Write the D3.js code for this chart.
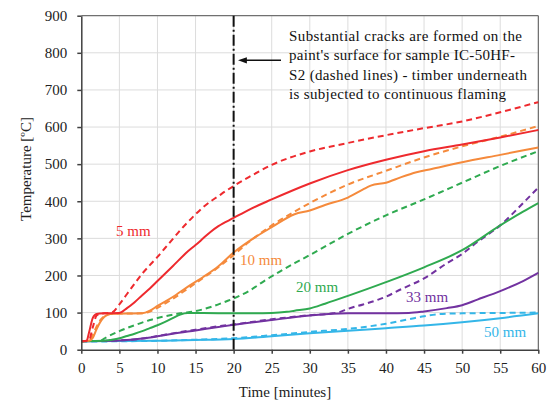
<!DOCTYPE html>
<html><head><meta charset="utf-8">
<script src="https://cdn.jsdelivr.net/npm/d3@7"></script>
<style>body{margin:0;background:#fff}svg{display:block}</style>
</head><body><svg id="c" width="549" height="409" font-family="Liberation Serif"></svg>
<script>
// ---- data ----
const xTicks = [0,5,10,15,20,25,30,35,40,45,50,55,60];
const yTicks = [0,100,200,300,400,500,600,700,800,900];
const seriesNames = ["5 mm","10 mm","20 mm","33 mm","50 mm"];
const seriesColors = ["#EE2A2E","#F58A3C","#2FAA50","#7232A0","#34B6E8"];
// [time(min), temperature(°C)]
const red_solid = [[0,23],[0.7,24],[1,45],[1.5,85],[2,96],[3,98],[5,99],[6,112],[7,128],[8,147],[9,165],[10,185],[12,225],[14,265],[15,282],[16,300],[17,318],[18,333],[20,355],[22,377],[25,405],[30,448],[35,484],[40,512],[45,535],[50,553],[55,572],[60,592]];
const red_dashed = [[0,23],[1,25],[1.5,60],[2,92],[2.5,97],[3,98],[4,100],[5,122],[6,150],[7,178],[8,205],[9,228],[10,250],[11,274],[12,298],[13,322],[14,344],[15,365],[16,384],[17,400],[18,414],[19,428],[20,441],[22,465],[25,498],[30,534],[35,557],[40,578],[45,597],[50,615],[55,640],[60,667]];
const orange_solid = [[0,23],[1,24],[1.5,32],[2,55],[2.5,75],[3,88],[3.5,94],[4,97],[8,98],[9,105],[10,118],[12,142],[14,170],[16,196],[18,225],[20,262],[22,292],[25,330],[28,365],[30,375],[32,390],[35,410],[37,432],[38,442],[40,450],[42,465],[44,478],[46,487],[50,505],[55,525],[60,545]];
const orange_dashed = [[0,23],[1,24],[1.5,40],[2,62],[2.5,80],[3,90],[3.5,96],[4,97],[8,98],[9,103],[10,113],[12,137],[14,165],[16,193],[18,222],[20,255],[22,290],[25,335],[28,372],[30,395],[35,445],[40,482],[45,518],[50,548],[55,574],[60,603]];
const green_solid = [[0,23],[3,24],[4,27],[5,31],[6,37],[7,43],[8,50],[9,58],[10,66],[11,75],[12,85],[13,95],[14,99],[16,99],[20,98],[25,99],[27,102],[28,105],[30,111],[32,124],[35,145],[40,182],[45,222],[50,268],[55,335],[58,372],[60,395]];
const green_dashed = [[0,23],[2.5,24],[3,30],[5,50],[7,66],[9,80],[11,90],[13,98],[15,104],[17,115],[19,130],[20,138],[22,158],[24,185],[26,210],[28,233],[30,255],[35,312],[40,362],[45,405],[50,450],[55,495],[60,535]];
const purple_solid = [[0,23],[5,25],[8,30],[10,36],[12,43],[15,52],[18,61],[20,67],[25,80],[30,92],[33,97],[35,98],[40,98],[43,99],[45,103],[48,112],[50,120],[52,135],[55,158],[58,185],[60,207]];
const purple_dashed = [[0,23],[5,25],[8,30],[10,37],[12,44],[15,54],[18,63],[20,68],[25,82],[30,93],[33,98],[34,102],[35,110],[37,122],[39,135],[40,143],[42,163],[45,192],[48,233],[50,258],[52,290],[55,335],[58,395],[60,437]];
const blue_solid = [[0,23],[10,24],[15,26],[20,29],[25,36],[30,44],[35,51],[40,58],[45,65],[50,74],[55,85],[60,98]];
const blue_dashed = [[0,22],[10,24],[15,27],[20,31],[25,39],[30,48],[35,56],[40,70],[43,82],[45,90],[47,96],[50,98],[55,99],[60,100]];
const crackTime = 20;
const noteLines = ["Substantial cracks are formed on the","paint's surface for sample IC-50HF-","S2 (dashed lines) - timber underneath","is subjected to continuous flaming"];
const xTitle = "Time [minutes]";
const yTitle = "Temperature [ºC]";

// ---- chart ----
const FONT = "Liberation Serif";
const svg = d3.select("#c");
const m = {l:81.3, r:10.7, t:15.7, b:59.3};
const W = 549, H = 409;
const x = d3.scaleLinear().domain([0,60]).range([m.l, W-m.r]);
const y = d3.scaleLinear().domain([0,900]).range([H-m.b, m.t]);

// grid
svg.append("g").selectAll("line").data(xTicks.slice(1)).join("line")
  .attr("x1",d=>x(d)).attr("x2",d=>x(d)).attr("y1",y(0)).attr("y2",y(900))
  .attr("stroke","#dcdcdc").attr("stroke-width",1);
svg.append("g").selectAll("line").data(yTicks.slice(1)).join("line")
  .attr("y1",d=>y(d)).attr("y2",d=>y(d)).attr("x1",x(0)).attr("x2",x(60))
  .attr("stroke","#dcdcdc").attr("stroke-width",1);
// frame top/right
svg.append("path").attr("d",`M${x(0)},${y(900)}H${x(60)}V${y(0)}`)
  .attr("fill","none").attr("stroke","#555").attr("stroke-width",1);

// series
const line = d3.line().x(d=>x(d[0])).y(d=>y(d[1])).curve(d3.curveMonotoneX);
const series = [
  [blue_solid,4,false],[blue_dashed,4,true],
  [purple_solid,3,false],[purple_dashed,3,true],
  [green_solid,2,false],[green_dashed,2,true],
  [orange_solid,1,false],[orange_dashed,1,true],
  [red_solid,0,false],[red_dashed,0,true]
];
svg.append("g").selectAll("path").data(series).join("path")
  .attr("d",d=>line(d[0])).attr("fill","none")
  .attr("stroke",d=>seriesColors[d[1]]).attr("stroke-width",2)
  .attr("stroke-dasharray",d=>d[2]?"6,4":null);

// vertical dash-dot line
svg.append("line").attr("x1",x(crackTime)).attr("x2",x(crackTime))
  .attr("y1",y(900)).attr("y2",y(0))
  .attr("stroke","#111").attr("stroke-width",2).attr("stroke-dasharray","11,3,2,3");

// axes
const gx = svg.append("g").attr("transform",`translate(0,${y(0)})`)
  .call(d3.axisBottom(x).tickValues(xTicks).tickSize(4).tickPadding(9).tickSizeOuter(0));
const gy = svg.append("g").attr("transform",`translate(${x(0)},0)`)
  .call(d3.axisLeft(y).tickValues(yTicks).tickSize(4).tickPadding(10).tickSizeOuter(0));
[gx,gy].forEach(g=>{
  g.attr("font-family",FONT).attr("font-size",15);
  g.select(".domain").attr("stroke","#404040").attr("stroke-width",1.5);
  g.selectAll(".tick line").attr("stroke","#404040").attr("stroke-width",1.5);
  g.selectAll(".tick text").attr("fill","#222").attr("font-family",FONT).attr("font-size",15);
});

// axis titles
svg.append("text").attr("x",285).attr("y",397).attr("text-anchor","middle")
  .attr("font-family",FONT).attr("font-size",15).attr("fill","#222").text(xTitle);
svg.append("text").attr("transform","translate(31,169) rotate(-90)").attr("text-anchor","middle")
  .attr("font-family",FONT).attr("font-size",15).attr("fill","#222").text(yTitle);

// series labels
const labelPos = [[116,236],[240,265],[296,292],[406,302],[484,337]];
svg.append("g").selectAll("text").data(seriesNames).join("text")
  .attr("x",(d,i)=>labelPos[i][0]).attr("y",(d,i)=>labelPos[i][1])
  .attr("fill",(d,i)=>seriesColors[i]).attr("font-family",FONT).attr("font-size",15).text(d=>d);

// annotation
const noteW = [233,226,238,217];
svg.append("g").selectAll("text").data(noteLines).join("text")
  .attr("x",289).attr("y",(d,i)=>41+i*19.3)
  .attr("textLength",(d,i)=>noteW[i]).attr("lengthAdjust","spacing")
  .attr("fill","#111").attr("font-family",FONT).attr("font-size",15).text(d=>d);
// arrow
svg.append("defs").append("marker").attr("id","ah").attr("viewBox","0 0 10 10")
  .attr("refX",1).attr("refY",5).attr("markerWidth",6).attr("markerHeight",6).attr("orient","auto-start-reverse")
  .append("path").attr("d","M0,1.5L10,5L0,8.5Z").attr("fill","#111");
svg.append("line").attr("x1",281).attr("x2",246).attr("y1",60.3).attr("y2",60.3)
  .attr("stroke","#111").attr("stroke-width",1.5).attr("marker-end","url(#ah)");
</script></body></html>
